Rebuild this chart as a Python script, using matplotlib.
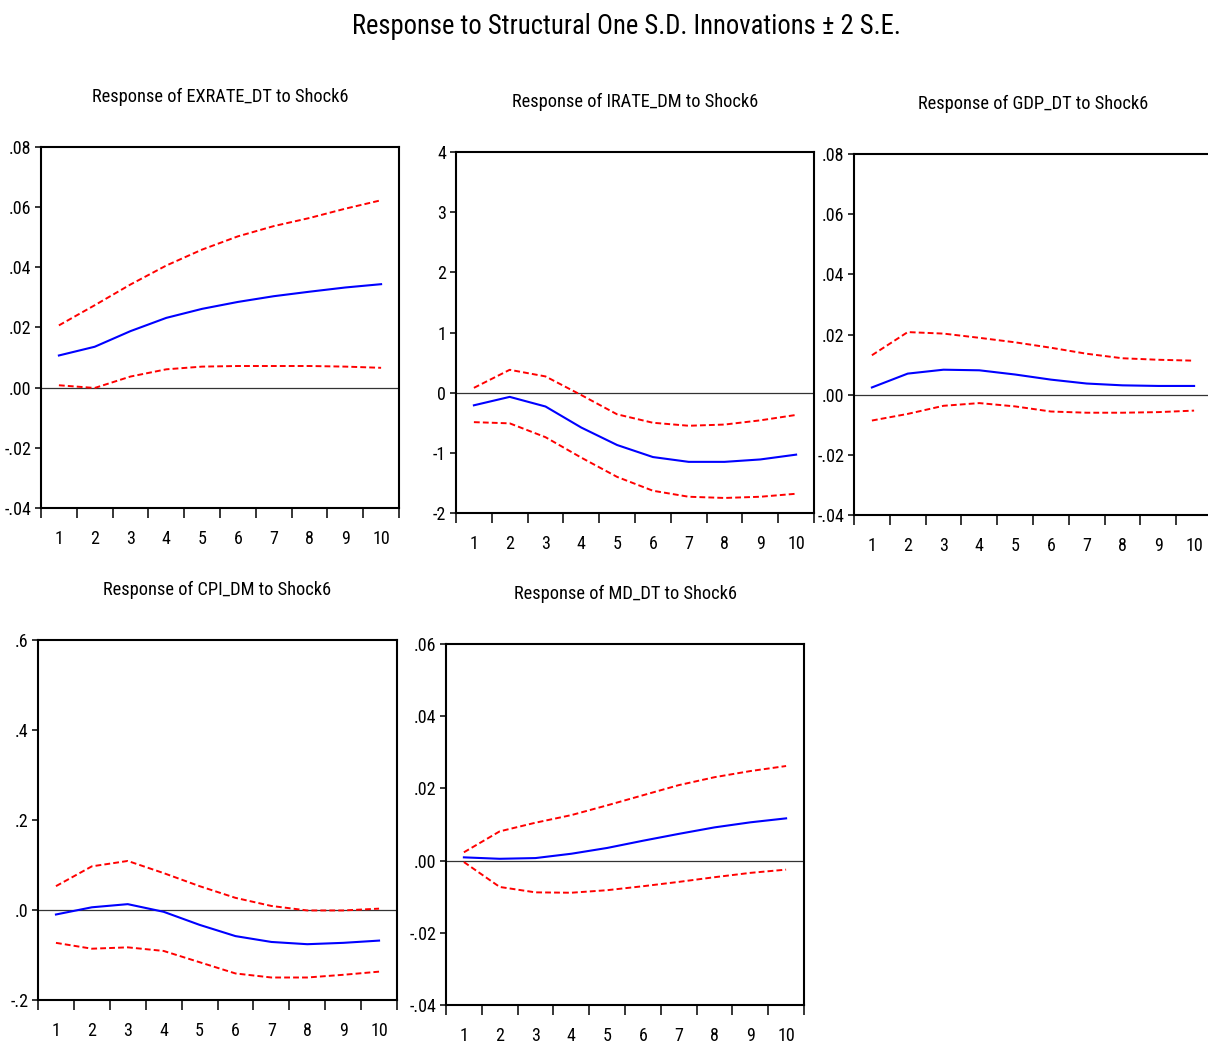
import matplotlib
matplotlib.use("Agg")
import matplotlib.pyplot as plt
from matplotlib import font_manager
from matplotlib.font_manager import FontProperties
from matplotlib.ticker import FixedLocator, FixedFormatter, NullFormatter

# ---------------- data ----------------
periods = [1, 2, 3, 4, 5, 6, 7, 8, 9, 10]
main_title = "Response to Structural One S.D. Innovations \u00b1 2 S.E."

titles = [
    "Response of EXRATE_DT to Shock6",
    "Response of IRATE_DM to Shock6",
    "Response of GDP_DT to Shock6",
    "Response of CPI_DM to Shock6",
    "Response of MD_DT to Shock6",
]

exrate_resp = [0.0107, 0.0136, 0.0188, 0.0232, 0.0262, 0.0285, 0.0304, 0.0319, 0.0333, 0.0344]
exrate_up = [0.0207, 0.0274, 0.0343, 0.0406, 0.0459, 0.0503, 0.0537, 0.0564, 0.0595, 0.0623]
exrate_lo = [0.0008, -0.0001, 0.0037, 0.0061, 0.0070, 0.0072, 0.0072, 0.0072, 0.0070, 0.0066]

irate_resp = [-0.21, -0.07, -0.23, -0.58, -0.87, -1.07, -1.15, -1.15, -1.11, -1.03]
irate_up = [0.08, 0.38, 0.27, -0.04, -0.36, -0.50, -0.55, -0.53, -0.46, -0.37]
irate_lo = [-0.49, -0.51, -0.74, -1.08, -1.40, -1.63, -1.73, -1.75, -1.73, -1.68]

gdp_resp = [0.0024, 0.0070, 0.0083, 0.0081, 0.0067, 0.0050, 0.0037, 0.0031, 0.0029, 0.0029]
gdp_up = [0.0131, 0.0208, 0.0203, 0.0189, 0.0174, 0.0156, 0.0136, 0.0121, 0.0116, 0.0113]
gdp_lo = [-0.0086, -0.0064, -0.0037, -0.0028, -0.0039, -0.0056, -0.0060, -0.0060, -0.0058, -0.0053]

cpi_resp = [-0.010, 0.006, 0.013, -0.004, -0.033, -0.058, -0.071, -0.076, -0.073, -0.068]
cpi_up = [0.053, 0.097, 0.109, 0.082, 0.053, 0.027, 0.009, -0.001, -0.001, 0.003]
cpi_lo = [-0.073, -0.086, -0.083, -0.091, -0.116, -0.141, -0.150, -0.150, -0.144, -0.137]

md_resp = [0.0009, 0.0005, 0.0007, 0.0019, 0.0035, 0.0055, 0.0074, 0.0092, 0.0106, 0.0117]
md_up = [0.0023, 0.0081, 0.0105, 0.0126, 0.0153, 0.0181, 0.0209, 0.0231, 0.0248, 0.0262]
md_lo = [-0.0004, -0.0073, -0.0088, -0.0089, -0.0082, -0.0071, -0.0059, -0.0046, -0.0034, -0.0025]

exrate_yticks = [-0.04, -0.02, 0.0, 0.02, 0.04, 0.06, 0.08]
exrate_ylabels = ["-.04", "-.02", ".00", ".02", ".04", ".06", ".08"]
irate_yticks = [-2, -1, 0, 1, 2, 3, 4]
irate_ylabels = ["-2", "-1", "0", "1", "2", "3", "4"]
gdp_yticks = [-0.04, -0.02, 0.0, 0.02, 0.04, 0.06, 0.08]
gdp_ylabels = ["-.04", "-.02", ".00", ".02", ".04", ".06", ".08"]
cpi_yticks = [-0.2, 0.0, 0.2, 0.4, 0.6]
cpi_ylabels = ["-.2", ".0", ".2", ".4", ".6"]
md_yticks = [-0.04, -0.02, 0.0, 0.02, 0.04, 0.06]
md_ylabels = ["-.04", "-.02", ".00", ".02", ".04", ".06"]
xtick_labels = ["1", "2", "3", "4", "5", "6", "7", "8", "9", "10"]

# ---------------- fonts: look for a narrow / condensed sans ----------------
def pick_condensed():
    prefs = ["Liberation Sans Narrow", "Arial Narrow", "Roboto Condensed",
             "Open Sans Condensed", "Noto Sans Condensed", "DejaVu Sans Condensed"]
    entries = font_manager.fontManager.ttflist
    def is_regular(f):
        w = f.weight
        okw = (w in (400, "normal", "regular", "book")) or (isinstance(w, int) and 350 <= w <= 450)
        return okw and f.style == "normal"
    for p in prefs:
        for f in entries:
            if f.name == p and is_regular(f):
                return f.fname
    for f in entries:
        full = (f.name + " " + str(f.fname)).lower()
        if ("narrow" in full or "condensed" in full) and "mono" not in full \
                and "serif" not in full and is_regular(f) and "light" not in full:
            return f.fname
    for f in entries:
        if f.stretch in ("condensed", "semi-condensed") and is_regular(f):
            return f.fname
    return None

cond_path = pick_condensed()
if cond_path is not None:
    def fp(size):
        return FontProperties(fname=cond_path, size=size)
    S_MAIN, S_TITLE, S_TICK = 19.2, 13.2, 13
else:
    def fp(size):
        return FontProperties(family=["Liberation Sans", "DejaVu Sans"], size=size)
    S_MAIN, S_TITLE, S_TICK = 17, 11.8, 10.5

W, H = 1208, 1044
fig = plt.figure(figsize=(W / 100, H / 100), dpi=100)
fig.patch.set_facecolor("white")

# axes boxes in pixels: (left, top, right, bottom)
boxes = [
    (41, 147, 399, 508),
    (456, 152, 814, 513),
    (854, 154, 1212, 515),
    (38, 640, 397, 1000),
    (446, 644, 804, 1005),
]

panels = [
    (exrate_resp, exrate_up, exrate_lo, exrate_yticks, exrate_ylabels),
    (irate_resp, irate_up, irate_lo, irate_yticks, irate_ylabels),
    (gdp_resp, gdp_up, gdp_lo, gdp_yticks, gdp_ylabels),
    (cpi_resp, cpi_up, cpi_lo, cpi_yticks, cpi_ylabels),
    (md_resp, md_up, md_lo, md_yticks, md_ylabels),
]

fig.text(626 / W, 1 - 27 / H, main_title, ha="center", va="center", fontproperties=fp(S_MAIN))

for (l, t, r, b), title, (resp, up, lo, yt, yl) in zip(boxes, titles, panels):
    ax = fig.add_axes([l / W, 1 - b / H, (r - l) / W, (b - t) / H])
    ax.axhline(0, color="#333333", lw=0.9, zorder=1)
    ax.plot(periods, up, color="#FF0000", lw=1.4, dashes=(3, 1.6), zorder=2)
    ax.plot(periods, lo, color="#FF0000", lw=1.4, dashes=(3, 1.6), zorder=2)
    ax.plot(periods, resp, color="#0000FF", lw=1.5, zorder=3)
    ax.set_xlim(0.5, 10.5)
    ax.set_ylim(yt[0], yt[-1])
    ax.yaxis.set_major_locator(FixedLocator(yt))
    ax.yaxis.set_major_formatter(FixedFormatter(yl))
    ax.xaxis.set_major_locator(FixedLocator(periods))
    ax.xaxis.set_major_formatter(FixedFormatter(xtick_labels))
    ax.xaxis.set_minor_locator(FixedLocator([p - 0.5 for p in periods] + [periods[-1] + 0.5]))
    ax.xaxis.set_minor_formatter(NullFormatter())
    ax.tick_params(axis="x", which="major", length=0, pad=16)
    ax.tick_params(axis="x", which="minor", length=7.5, width=1.1, direction="out")
    ax.tick_params(axis="y", which="major", length=4.5, width=1.1, direction="out", pad=2.5)
    for lab in ax.get_xticklabels() + ax.get_yticklabels():
        lab.set_fontproperties(fp(S_TICK))
    for s in ax.spines.values():
        s.set_linewidth(1.5)
    ax.text(0.5, 1 + 50 / (b - t), title, transform=ax.transAxes, ha="center", va="center",
            fontproperties=fp(S_TITLE))

fig.savefig("out.png", dpi=100, facecolor="white")
